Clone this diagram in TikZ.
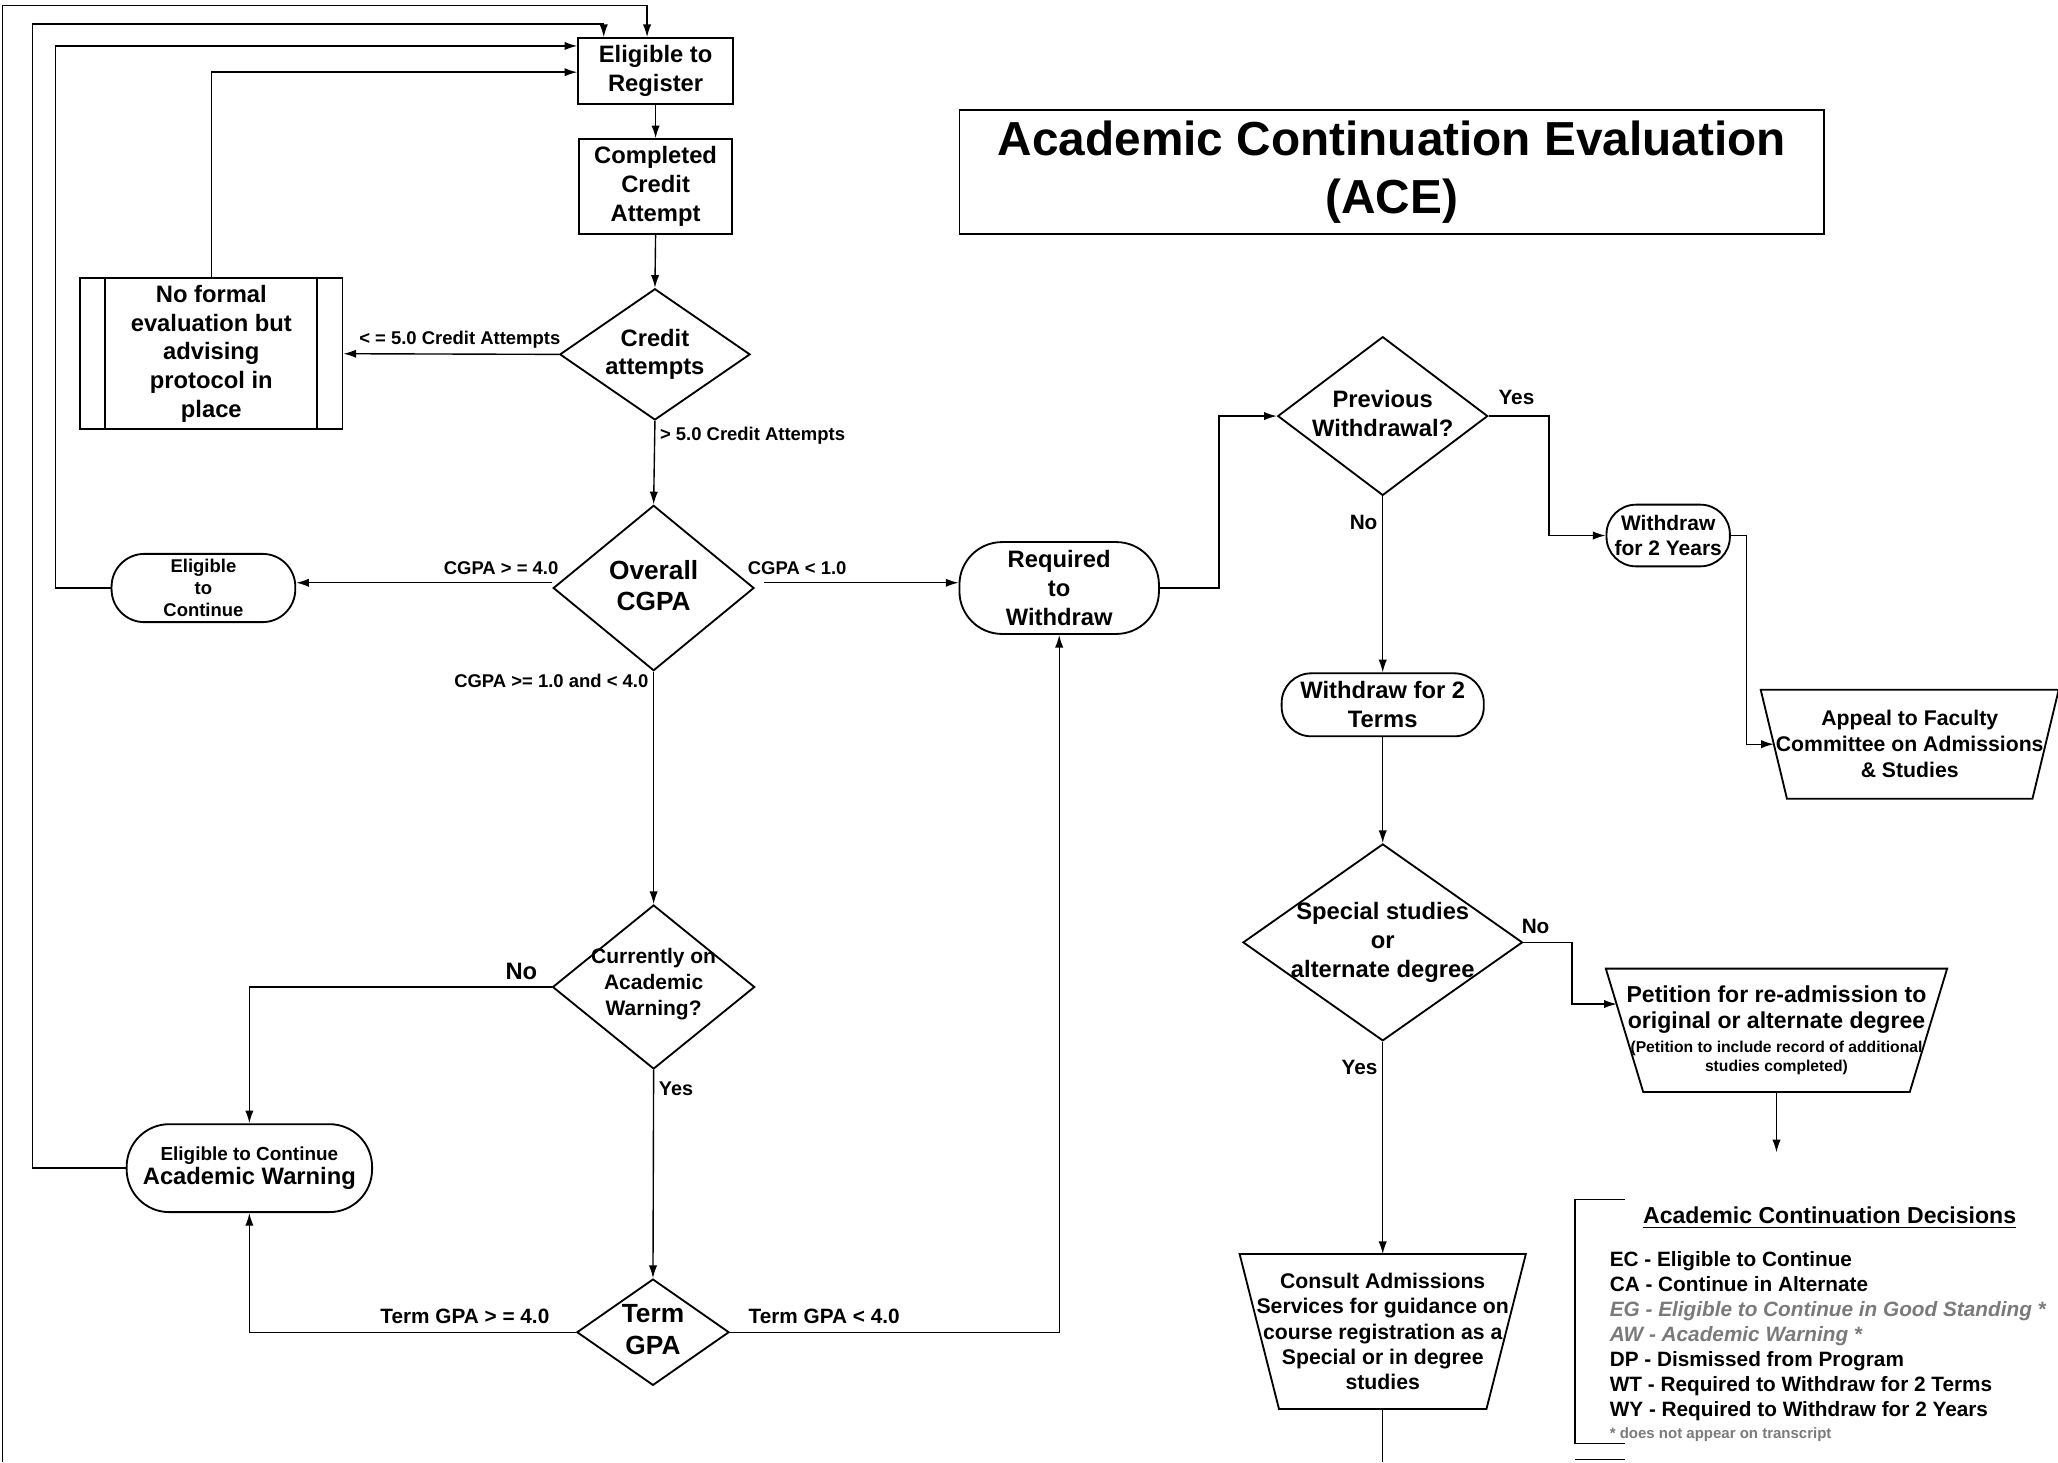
\documentclass[tikz,border=0pt]{standalone}
\usepackage{fontspec}
\setmainfont{Liberation Sans}
\usepackage{tikz}
\usetikzlibrary{shapes, arrows.meta, calc}
\definecolor{notegray}{HTML}{7A7A7A}
\newcommand{\fsz}[2]{\fontsize{#1}{#2}\selectfont\bfseries}

\begin{document}
\begin{tikzpicture}[x=0.2mm, y=-0.2mm, line width=0.6pt,
  >={Latex[length=5.5pt,width=3.6pt]},
  every node/.style={font=\fsz{10.3}{12.5}, align=center, inner sep=0pt},
  box/.style={draw, line width=0.8pt, rectangle},
  rbox/.style={draw, line width=0.8pt, rectangle},
  dia/.style={draw, line width=0.8pt, diamond},
  trap/.style={line width=0.8pt},
  lbl/.style={font=\fsz{8}{9.6}, inner sep=2pt}]
\useasboundingbox (0,0) rectangle (1568,1114);

% title
\node[box, minimum width=131.8mm, minimum height=18.8mm, font=\fsz{20.7}{25}] at (1060.5,131) (title) {Academic Continuation Evaluation\\(ACE)};

% left column
\node[box, minimum width=23.6mm, minimum height=10mm] at (499.5,54) (reg) {Eligible to\\Register};
\node[box, minimum width=23.4mm, minimum height=14.4mm] at (499.5,142) (comp) {Completed\\Credit\\Attempt};
\node[dia, minimum width=29mm, minimum height=20mm] at (499,270) (credit) {};
\node at (credit) (creditT) {Credit\\attempts};
\node[box, minimum width=40mm, minimum height=23mm] at (161,269.5) (noform) {No formal\\evaluation but\\advising\\protocol in\\place};
\draw[line width=0.8pt] ($(noform.north west)+(20,0)$) -- ($(noform.south west)+(20,0)$)
  ($(noform.north east)+(-20,0)$) -- ($(noform.south east)+(-20,0)$);
\node[dia, minimum width=30.6mm, minimum height=25.2mm] at (498,448) (cgpa) {};
\node[font=\fsz{11.4}{13.6}] at (498,446) (cgpaT) {Overall\\CGPA};
\node[rbox, rounded corners=5mm, minimum width=28mm, minimum height=10.4mm, font=\fsz{8}{9.6}] at (155,448) (elig) {Eligible\\to\\Continue};
\node[rbox, rounded corners=6.5mm, minimum width=30.4mm, minimum height=14mm] at (807,448) (req) {Required\\to\\Withdraw};
\node[dia, minimum width=30.8mm, minimum height=25mm] at (498,752) (warn) {};
\node[font=\fsz{9.1}{11.2}] at (498,750) (warnT) {Currently on\\Academic\\Warning?};
\node[rbox, rounded corners=6.5mm, minimum width=37.4mm, minimum height=13.4mm] at (190,890) (aw) {{\fsz{8.2}{10}Eligible to Continue}\\[-2pt]Academic Warning};
\node[dia, minimum width=23.2mm, minimum height=16.2mm] at (497.5,1015) (term) {};
\node[font=\fsz{11.4}{13.6}] at (497.5,1013) (termT) {Term\\GPA};

% right column
\node[dia, minimum width=32mm, minimum height=24.2mm] at (1053.5,317) (prev) {};
\node at (1053.5,315) (prevT) {Previous\\Withdrawal?};
\node[rbox, rounded corners=4.5mm, minimum width=18.8mm, minimum height=9.4mm, font=\fsz{9.1}{11.2}] at (1271,408) (wy) {Withdraw\\for 2 Years};
\node[minimum width=45.2mm, minimum height=16.4mm, font=\fsz{9.2}{11.2}] at (1455,567) (appeal) {Appeal to Faculty\\Committee on Admissions\\\& Studies};
\draw[trap] (appeal.north west) -- (appeal.north east) -- ($(appeal.south east)+(-20,0)$) -- ($(appeal.south west)+(20,0)$) -- cycle;
\node[rbox, rounded corners=4.5mm, minimum width=30.8mm, minimum height=9.6mm] at (1053.5,537) (wt) {Withdraw for 2\\Terms};
\node[dia, minimum width=42.6mm, minimum height=30mm] at (1053.5,718) (spec) {};
\node at (1053.5,718) (specT) {Special studies\\or\\alternate degree};
\node[minimum width=51.8mm, minimum height=18.6mm, font=\fsz{10}{11.3}] at (1353.5,785) (pet) {Petition for re-admission to\\original or alternate degree\\[-1pt]{\fsz{6.8}{8}(Petition to include record of additional}\\[-3pt]{\fsz{6.8}{8}studies completed)}};
\draw[trap] (pet.north west) -- (pet.north east) -- ($(pet.south east)+(-28.5,0)$) -- ($(pet.south west)+(28.5,0)$) -- cycle;
\node[minimum width=43.4mm, minimum height=23.4mm, font=\fsz{9.2}{11}] at (1053.5,1014.5) (consult) {Consult Admissions\\Services for guidance on\\course registration as a\\Special or in degree\\studies};
\draw[trap] (consult.north west) -- (consult.north east) -- ($(consult.south east)+(-30,0)$) -- ($(consult.south west)+(30,0)$) -- cycle;

% legend
\draw (1238,914) -- (1200,914) -- (1200,1100) -- (1238,1100);
\draw (1200,1112) -- (1238,1112);
\node[font=\fsz{10}{12}] at (1394,928) (legT) {\underline{Academic Continuation Decisions}};
\node[anchor=north west, align=left, font=\fsz{9}{10.8}] at (1226,953) (leg) {EC - Eligible to Continue\\CA - Continue in Alternate\\{\color{notegray}\itshape EG - Eligible to Continue in Good Standing *}\\{\color{notegray}\itshape AW - Academic Warning *}\\DP - Dismissed from Program\\WT - Required to Withdraw for 2 Terms\\WY - Required to Withdraw for 2 Years\\[-1pt]{\color{notegray}\fsz{6.5}{8}* does not appear on transcript}};

% connectors
\path (reg.south) edge[->] (comp.north);
\path (comp.south) edge[->] (credit.north);
\path (credit.west) edge[->] node[lbl, above, pos=0.46] {< = 5.0 Credit Attempts} (noform.east);
\path (credit.south) edge[->] node[lbl, anchor=west, pos=0.18] {> 5.0 Credit Attempts} (cgpa.north);
\path ($(cgpa.west)+(0,-4)$) edge[->] node[lbl, above, pos=0.2, inner sep=3pt] {CGPA > = 4.0} ($(elig.east)+(0,-4)$);
\path ($(cgpa.east)+(7,-4)$) edge[->] node[lbl, above, pos=0.17, inner sep=3pt] {CGPA < 1.0} ($(req.west)+(0,-4)$);
\path (cgpa.south) edge[->] node[lbl, anchor=north east, pos=0, yshift=1pt] {CGPA >= 1.0 and < 4.0} (warn.north);
\draw[->] (warn.west) -| node[pos=0.05, above, inner sep=3pt] {No} (aw.north);
\path (warn.south) edge[->] node[lbl, anchor=west, pos=0.09, font=\fsz{8.6}{10}] {Yes} (term.north);
\draw[->] (term.west) -| node[lbl, pos=0.17, above, inner sep=3.5pt, font=\fsz{9}{10.8}] {Term GPA > = 4.0} (aw.south);
\draw[->] (term.east) -| node[lbl, pos=0.143, above, inner sep=3.5pt, font=\fsz{9}{10.8}] {Term GPA < 4.0} (req.south);
\draw[->] (req.east) -- ++(45,0) |- (prev.west);
\draw[->] (prev.east) -- node[lbl, above, pos=0.46, inner sep=4.5pt, font=\fsz{9}{10.8}] {Yes} ++(46,0) |- (wy.west);
\coordinate (appealIn) at ($(appeal.west)+(10,0)$);
\draw[->] (wy.east) -- ++(12,0) |- (appealIn);
\path (prev.south) edge[->] node[lbl, anchor=east, pos=0.15, font=\fsz{9}{10.8}] {No} (wt.north);
\path (wt.south) edge[->] (spec.north);
\coordinate (petIn) at ($(pet.north west)+(8.3,27)$);
\draw[->] (spec.east) -- node[lbl, above, pos=0.25, inner sep=3.5pt, font=\fsz{9}{10.8}] {No} ++(37,0) |- (petIn);
\coordinate (petOut) at (1353.5,878);
\path (pet.south) edge[->] (petOut);
\path (spec.south) edge[->] node[lbl, anchor=east, pos=0.12, font=\fsz{9}{10.8}] {Yes} (consult.north);
\coordinate (consultOut) at (1053.5,1114);
\draw (consult.south) -- (consultOut);

% loops back to register
\coordinate (loopA) at (2,1114);
\draw[->] (loopA) |- ($(reg.north)+(-6.5,-24)$) -- ($(reg.north)+(-6.5,0)$);
\draw[->] (aw.west) -- ++(-71,0) |- ($(reg.north)+(-39.5,-10)$) -- ($(reg.north)+(-39.5,0)$);
\draw[->] (elig.west) -- ++(-42,0) |- ($(reg.west)+(0,-19)$);
\draw[->] (noform.north) |- ($(reg.west)+(0,1)$);
\end{tikzpicture}
\end{document}
